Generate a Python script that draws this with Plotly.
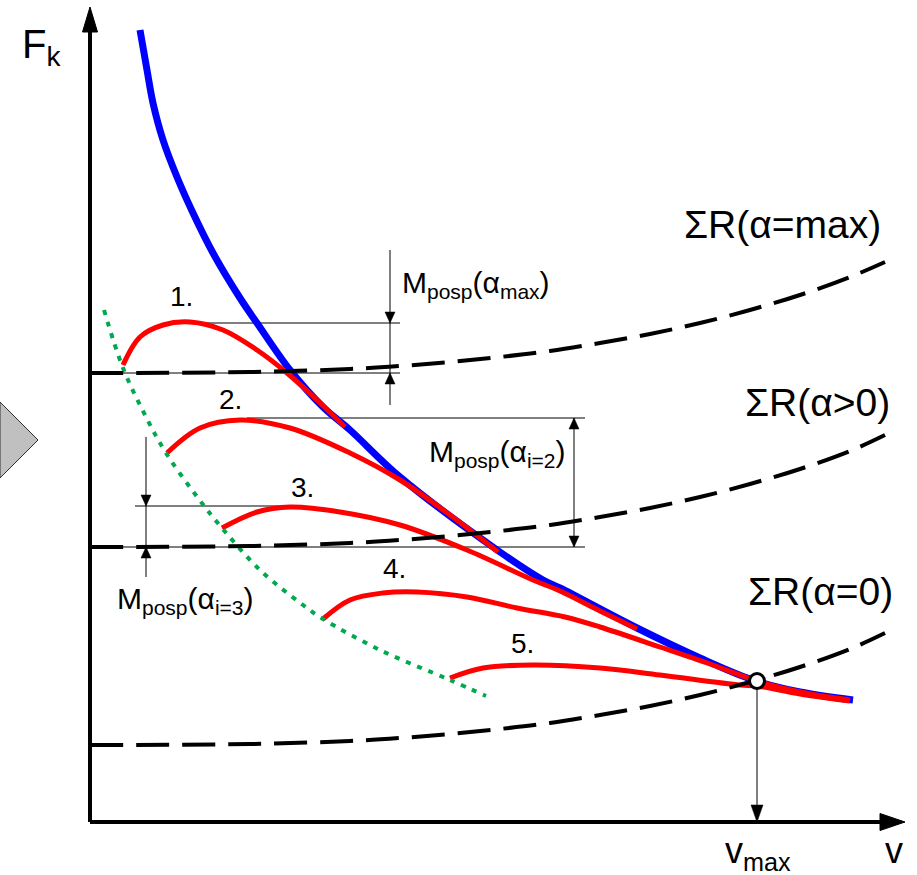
import plotly.graph_objects as go

# ---- data (v along the x axis, F_k along the y axis, arbitrary chart units) ----
blue_v = [50, 57, 63, 73, 87, 103, 123, 150, 167, 200, 233, 260, 310, 410, 453, 470, 547, 610, 663, 710, 763]
blue_F = [792, 752, 719, 682, 645, 609, 569, 524, 499, 452, 415, 392, 345, 270, 242, 234, 194, 164, 142, 130, 122]

red1_v = [33, 50, 73, 100, 133, 167, 197, 227, 255]
red1_F = [457, 485, 497, 500, 492, 472, 449, 422, 395]

red2_v = [77, 110, 150, 200, 260, 310, 360, 408]
red2_F = [369, 394, 402, 394, 369, 342, 307, 270]

red3_v = [132, 167, 200, 250, 310, 377, 443, 470, 510, 547]
red3_F = [294, 310, 315, 310, 297, 272, 242, 231, 211, 193]

red4_v = [233, 260, 293, 327, 377, 427, 475, 510, 570, 620, 667, 710, 760]
red4_F = [203, 222, 229, 230, 225, 214, 205, 195, 175, 158, 141, 130, 122]

red5_v = [360, 393, 443, 510, 570, 650, 667, 710, 760]
red5_F = [144, 154, 157, 154, 147, 137, 136, 128, 121]

green_v = [14, 33, 55, 76, 105, 132, 170, 213, 233, 290, 360, 396]
green_F = [512, 454, 407, 369, 328, 294, 252, 217, 203, 172, 142, 126]

R_v = [0, 160, 260, 310, 360, 410, 460, 510, 560, 610, 660, 710, 760, 795]
Rmax_F = [449, 450, 453, 456, 460, 465, 471, 479, 488, 499, 512, 527, 545, 560]
Rpos_F = [275, 276, 279, 282, 286, 291, 297, 305, 314, 325, 338, 353, 371, 387]
R0_F = [77, 78, 81, 84, 88, 93, 99, 107, 116, 127, 140, 155, 173, 189]

vmax_point = (667, 141)

curve_labels = ["1.", "2.", "3.", "4.", "5."]
curve_label_pos = [(91, 526), (140, 423), (212, 335), (304, 254), (432, 179)]

R_labels = ["ΣR(α=max)", "ΣR(α>0)", "ΣR(α=0)"]
R_label_pos = [(692, 598), (727, 420), (730, 231)]

M_labels = ["M<sub>posp</sub>(α<sub>max</sub>)",
            "M<sub>posp</sub>(α<sub>i=2</sub>)",
            "M<sub>posp</sub>(α<sub>i=3</sub>)"]
M_label_pos = [(310, 538), (337, 369), (25, 222)]

FONT = "Arial, Liberation Sans, sans-serif"
RED = "#ff0000"
BLUE = "#0000ff"
GREEN = "#00a84f"

fig = go.Figure()

fig.add_trace(go.Scatter(x=blue_v, y=blue_F, mode="lines", line=dict(color=BLUE, width=7, shape="spline"), hoverinfo="skip"))
for rv, rF in [(red1_v, red1_F), (red2_v, red2_F), (red3_v, red3_F), (red4_v, red4_F), (red5_v, red5_F)]:
    fig.add_trace(go.Scatter(x=rv, y=rF, mode="lines", line=dict(color=RED, width=5, shape="spline"), hoverinfo="skip"))
fig.add_trace(go.Scatter(x=green_v, y=green_F, mode="lines",
                         line=dict(color=GREEN, width=4, dash="5px,7px", shape="spline"), hoverinfo="skip"))
for RF in [Rmax_F, Rpos_F, R0_F]:
    fig.add_trace(go.Scatter(x=R_v, y=RF, mode="lines",
                             line=dict(color="black", width=4, dash="33px,13px", shape="spline"), hoverinfo="skip"))
fig.add_trace(go.Scatter(x=[vmax_point[0]], y=[vmax_point[1]], mode="markers",
                         marker=dict(size=15, color="white", line=dict(color="black", width=3)), hoverinfo="skip"))

shapes = []
# axes
shapes.append(dict(type="line", x0=0, y0=0, x1=0, y1=792, line=dict(color="black", width=4)))
shapes.append(dict(type="line", x0=0, y0=0, x1=792, y1=0, line=dict(color="black", width=4)))
shapes.append(dict(type="path", path="M 0,815 L -7.5,790 L 7.5,790 Z", fillcolor="black", line=dict(color="black", width=1)))
shapes.append(dict(type="path", path="M 815,0 L 790,8.5 L 790,-8.5 Z", fillcolor="black", line=dict(color="black", width=1)))
# grey diamond at left edge
shapes.append(dict(type="path", path="M -90,420 L -52,382 L -90,344 Z", fillcolor="#c0c0c0", line=dict(color="#303030", width=1)))

# thin dimension lines
thin = dict(color="black", width=1)
peak1, peak2, peak3 = 499, 404, 316
base1, base2 = Rmax_F[0], Rpos_F[0]
for x0, x1, y in [(100, 310, peak1), (0, 310, base1), (157, 495, peak2), (0, 495, base2), (45, 200, peak3)]:
    shapes.append(dict(type="line", x0=x0, x1=x1, y0=y, y1=y, line=thin, layer="below"))
shapes.append(dict(type="line", x0=300, x1=300, y0=572, y1=417, line=thin))
shapes.append(dict(type="line", x0=484, x1=484, y0=peak2, y1=base2, line=thin))
shapes.append(dict(type="line", x0=56, x1=56, y0=385, y1=245, line=thin))
shapes.append(dict(type="line", x0=vmax_point[0], x1=vmax_point[0], y0=vmax_point[1] - 8, y1=3, line=thin))


def head(x, y, down, L=11, W=5):
    """filled triangular arrow head with its tip at (x, y)"""
    b = y + L if down else y - L
    return dict(type="path", path=f"M {x},{y} L {x - W},{b} L {x + W},{b} Z",
                fillcolor="black", line=dict(color="black", width=0.5))


shapes += [head(300, peak1, True), head(300, base1, False),
           head(484, peak2, False), head(484, base2, True),
           head(56, peak3, True), head(56, base2, False),
           head(vmax_point[0], 0, True, L=17, W=6)]
fig.update_layout(shapes=shapes)

ann = []
for t, (x, y) in zip(curve_labels, curve_label_pos):
    ann.append(dict(x=x, y=y, text=t, showarrow=False, font=dict(family=FONT, size=28, color="black")))
for t, (x, y) in zip(R_labels, R_label_pos):
    ann.append(dict(x=x, y=y, text=t, showarrow=False, font=dict(family=FONT, size=39, color="black")))
for t, (x, y) in zip(M_labels, M_label_pos):
    ann.append(dict(x=x, y=y, text=t, showarrow=False, xanchor="left", font=dict(family=FONT, size=30, color="black")))

ann.append(dict(x=-70, y=775, text="F<sub>k</sub>", showarrow=False, xanchor="left", font=dict(family=FONT, size=40, color="black")))
ann.append(dict(x=633, y=-31, text="v<sub>max</sub>", showarrow=False, xanchor="left", font=dict(family=FONT, size=36, color="black")))
ann.append(dict(x=804, y=-28, text="v", showarrow=False, font=dict(family=FONT, size=36, color="black")))

fig.update_layout(
    annotations=ann,
    width=917, height=875, autosize=False,
    margin=dict(l=0, r=0, t=0, b=0, pad=0),
    plot_bgcolor="white", paper_bgcolor="white",
    showlegend=False,
    xaxis=dict(range=[-90, 827], visible=False, fixedrange=True),
    yaxis=dict(range=[-53, 822], visible=False, fixedrange=True),
)

fig.write_html("out.html", config={"displayModeBar": False},
               post_script="document.body.style.margin='0';document.body.style.overflow='hidden';")
